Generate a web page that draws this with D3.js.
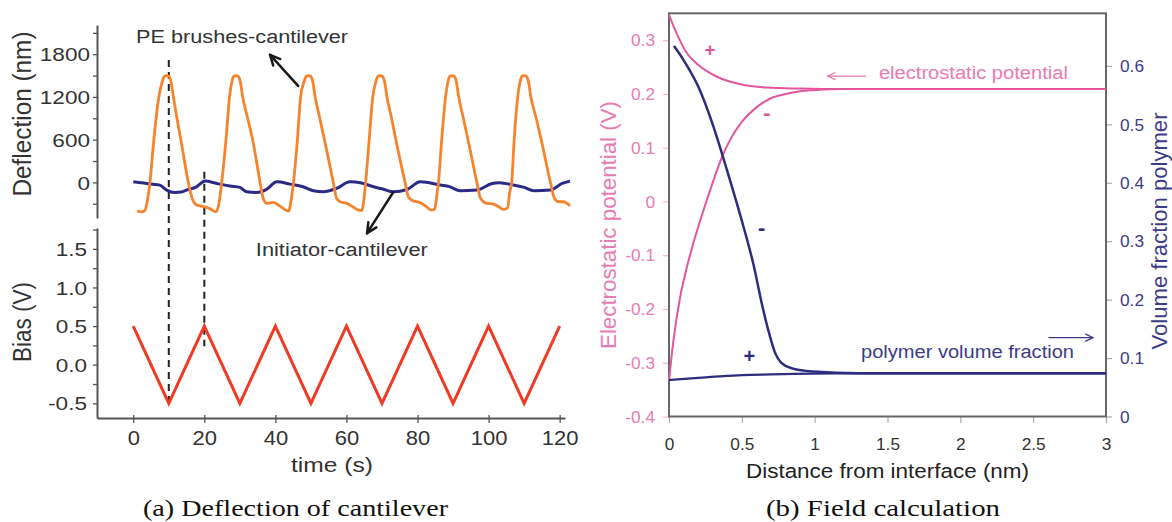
<!DOCTYPE html>
<html><head><meta charset="utf-8">
<script src="https://cdn.jsdelivr.net/npm/d3@7"></script>
<style>
body{margin:0;background:#fff}
svg{display:block}
text{font-family:"Liberation Sans",Arial,Helvetica,sans-serif}
</style>
</head><body>
<svg id="c" width="1172" height="522"></svg>
<script>
// ---------------- DATA ----------------
// (a) Deflection of cantilever
const defTime = [1.1,2.3,3.3,4.0,4.7,5.8,7.2,8.2,8.8,9.4,10.0,10.6,11.3,12.3,13.4,15.5,16.6,17.6,18.8,20.2,21.8,23.3,24.1,
  24.9,26.1,27.1,27.8,28.3,28.9,29.5,30.1,30.8,32.2,33.6,35.7,36.6,37.6,39.4,41.3,43.0,43.7,44.5,
  45.1,46.2,47.1,48.1,48.7,49.3,49.9,50.5,51.2,52.5,53.8,56.3,57.2,58.2,60.1,62.0,63.4,64.3,65.0,
  65.4,66.4,67.4,68.3,68.9,69.5,70.1,70.7,71.4,72.7,73.9,76.5,77.4,78.4,80.8,82.5,83.8,84.8,85.5,
  85.9,86.8,87.9,88.6,89.1,89.7,90.3,90.9,91.6,92.9,94.2,96.7,97.7,99.5,101.0,102.8,104.2,105.3,106.0,
  106.5,107.2,108.2,108.9,109.4,110.0,110.6,111.2,111.9,113.4,114.8,117.4,118.5,119.7,121.1,122.9];
const defBrush = [-400,-415,-390,-250,0,600,1200,1420,1490,1500,1490,1420,1200,900,600,0,-230,-310,-330,-345,-375,-413,-300,
  0,600,1200,1420,1490,1500,1490,1420,1200,900,600,0,-230,-295,-281,-333,-390,-403,-230,
  0,600,1200,1420,1490,1500,1490,1420,1200,900,600,0,-220,-272,-295,-350,-390,-395,-200,
  0,600,1200,1420,1490,1500,1490,1420,1200,900,600,0,-200,-250,-287,-340,-390,-380,-150,
  0,600,1200,1420,1490,1500,1490,1420,1200,900,600,0,-220,-295,-300,-340,-380,-360,-120,
  0,600,1200,1420,1490,1500,1490,1420,1200,900,600,0,-220,-272,-272,-330];
const initTime = [0,3,5.5,7.5,9.4,11.7,13.5,15,17.8,20.2,23.5,27.2,30,31.9,34.7,37.5,40.4,44.1,47.8,50.7,53.5,57.2,
  61,63.9,67.6,70,73.2,77,80.8,86.4,89,92,96.7,101,103,107,110,112.7,117.4,120.7,122.9];
const initVal = [8,-10,-25,-38,-108,-141,-135,-108,-62,18,-15,-52,-70,-132,-141,-98,8,-24,-62,-118,-132,-85,
  8,-5,-62,-90,-133,-100,8,-38,-60,-118,-108,-15,-5,-38,-70,-118,-108,-15,18];
const biasTime = [0,10,20,30,40,50,60,70,80,90,100,110,120];
const biasVal  = [0.5,-0.5,0.5,-0.5,0.5,-0.5,0.5,-0.5,0.5,-0.5,0.5,-0.5,0.5];
const defTicks = [1800,1200,600,0];
const defMinor = [-300,0,300,600,900,1200,1500,1800,2100];
const biasTicks = [1.5,1.0,0.5,0.0,-0.5];
const biasMinor = [-0.5,-0.25,0,0.25,0.5,0.75,1.0,1.25,1.5,1.75];
const timeTicks = [0,20,40,60,80,100,120];
const dashTimes = [10,20];
const dashTopDef = [1720,150];     // deflection value where each dashed line starts
const dashBotBias = [-0.5,0.24];   // bias value where each dashed line ends

// (b) Field calculation
const potUpDist = [0,0.05,0.12,0.21,0.33,0.49,0.67,0.9,1.2,1.5,2,2.5,3];
const potUpVal  = [0.347,0.314,0.277,0.252,0.232,0.218,0.212,0.210,0.209,0.209,0.209,0.209,0.209];
const potLoDist = [0,0.03,0.075,0.12,0.17,0.235,0.3,0.36,0.42,0.5,0.6,0.7,0.8,0.9,1.0,1.2,1.5,2,2.5,3];
const potLoVal  = [-0.333,-0.26,-0.18,-0.125,-0.075,-0.018,0.035,0.08,0.115,0.148,0.175,0.192,0.2,0.205,0.207,0.209,0.209,0.209,0.209,0.209];
const volUpDist = [0.034,0.1,0.2,0.3,0.4,0.5,0.58,0.64,0.69,0.73,0.77,0.85,0.99,1.3,1.6,2,2.5,3];
const volUpVal  = [0.634,0.61,0.565,0.5,0.42,0.335,0.26,0.19,0.14,0.108,0.092,0.082,0.077,0.074,0.074,0.074,0.074,0.074];
const volLoDist = [0,0.2,0.4,0.7,0.97,1.3,2,3];
const volLoVal  = [0.0626,0.066,0.0695,0.072,0.0735,0.074,0.074,0.074];
const potTicks = [-0.4,-0.3,-0.2,-0.1,0,0.1,0.2,0.3];
const volTicks = [0,0.1,0.2,0.3,0.4,0.5,0.6];
const distTicks = [0,0.5,1,1.5,2,2.5,3];

// ---------------- DRAWING ----------------
const svg = d3.select("#c");
const ORANGE="#f5842f", NAVY_L="#2b2b86", RED="#ef3a24", AX="#555", TXT="#333";
const PINK="#e2569c", PINK_T="#e77cb2", NAVY="#2d2c7e", NAVY_T="#3d3c85";

function stretch(sel, f){
  sel.each(function(){
    const w=this.getComputedTextLength();
    if(w>0){ this.setAttribute("textLength", w*f); this.setAttribute("lengthAdjust","spacingAndGlyphs"); }
  });
}
function arrow(g, x1,y1,x2,y2,color,w,len){
  g.append("line").attr("x1",x1).attr("y1",y1).attr("x2",x2).attr("y2",y2)
    .attr("stroke",color).attr("stroke-width",w).attr("stroke-linecap","round");
  const a=Math.atan2(y1-y2,x1-x2);
  [0.45,-0.45].forEach(da=>{
    g.append("line").attr("x1",x2).attr("y1",y2)
      .attr("x2",x2+len*Math.cos(a+da)).attr("y2",y2+len*Math.sin(a+da))
      .attr("stroke",color).attr("stroke-width",w).attr("stroke-linecap","round");
  });
}

// ---- panel (a) ----
const xT = d3.scaleLinear().domain([-10.2,121.5]).range([97,565]);
const yD = d3.scaleLinear().domain([-500,2210]).range([218,25]);
const yB = d3.scaleLinear().domain([-0.69,1.77]).range([418,228]);
const ga = svg.append("g");

function styleAxis(g){
  g.select(".domain").attr("stroke",AX).attr("stroke-width",2);
  g.selectAll(".tick line").attr("stroke",AX).attr("stroke-width",1.3);
  g.selectAll(".tick text").attr("fill",TXT);
}
const axD = ga.append("g").attr("transform","translate(97,0)")
  .call(d3.axisLeft(yD).tickValues(defMinor).tickSize(4).tickSizeOuter(0)
    .tickFormat(d=>defTicks.includes(d)?String(d):""));
styleAxis(axD);
axD.selectAll(".tick text").attr("x",-7).attr("dy","0.36em").style("font-size","18.5px");
stretch(axD.selectAll(".tick text"),1.22);

const axB = ga.append("g").attr("transform","translate(97,0)")
  .call(d3.axisLeft(yB).tickValues(biasMinor).tickSize(4).tickSizeOuter(0)
    .tickFormat(d=>biasTicks.includes(d)?d.toFixed(1):""));
styleAxis(axB);
axB.selectAll(".tick text").attr("x",-10).attr("dy","0.36em").style("font-size","18.5px");
stretch(axB.selectAll(".tick text"),1.22);

const axT = ga.append("g").attr("transform","translate(0,418)")
  .call(d3.axisBottom(xT).tickValues(timeTicks).tickSize(5).tickSizeOuter(0));
styleAxis(axT);
axT.selectAll(".tick line").attr("y1",-3);
axT.selectAll(".tick text").attr("y",27).attr("dy",0).style("font-size","20px");
stretch(axT.selectAll(".tick text"),1.1);

// axis titles
ga.append("text").attr("transform","translate(31,114) scale(1.1,1) rotate(-90)")
  .attr("text-anchor","middle").style("font-size","23px").attr("fill",TXT)
  .attr("textLength",165).attr("lengthAdjust","spacingAndGlyphs").text("Deflection (nm)");
ga.append("text").attr("transform","translate(31,322) scale(1.1,1) rotate(-90)")
  .attr("text-anchor","middle").style("font-size","23px").attr("fill",TXT)
  .attr("textLength",80).attr("lengthAdjust","spacingAndGlyphs").text("Bias (V)");
ga.append("text").attr("x",291).attr("y",472).style("font-size","21px").attr("fill",TXT)
  .attr("textLength",82).attr("lengthAdjust","spacingAndGlyphs").text("time (s)");

// dashed guide lines
dashTimes.forEach((t,i)=>{
  ga.append("line").attr("x1",xT(t)).attr("x2",xT(t))
    .attr("y1",yD(dashTopDef[i])).attr("y2",yB(dashBotBias[i]))
    .attr("stroke","#222").attr("stroke-width",2).attr("stroke-dasharray","7,5");
});

// curves
const lineD = d3.line().curve(d3.curveMonotoneX);
ga.append("path").attr("d",lineD(initTime.map((t,i)=>[xT(t),yD(initVal[i])])))
  .attr("fill","none").attr("stroke",NAVY_L).attr("stroke-width",3);
ga.append("path").attr("d",lineD(defTime.map((t,i)=>[xT(t),yD(defBrush[i])])))
  .attr("fill","none").attr("stroke",ORANGE).attr("stroke-width",2.8).attr("stroke-linejoin","round");
ga.append("path").attr("d",d3.line()(biasTime.map((t,i)=>[xT(t),yB(biasVal[i])])))
  .attr("fill","none").attr("stroke",RED).attr("stroke-width",3).attr("stroke-linejoin","miter");

// annotations
ga.append("text").attr("x",xT(0.8)).attr("y",yD(1960)).style("font-size","18px").attr("fill",TXT)
  .attr("textLength",212).attr("lengthAdjust","spacingAndGlyphs").text("PE brushes-cantilever");
ga.append("text").attr("x",xT(34.5)).attr("y",yD(-1038)).style("font-size","18px").attr("fill",TXT)
  .attr("textLength",172).attr("lengthAdjust","spacingAndGlyphs").text("Initiator-cantilever");
arrow(ga, xT(46.4),yD(1354), xT(38.5),yD(1790), "#1a1a1a",2.5,11);
arrow(ga, xT(73.2),yD(-135), xT(65.8),yD(-713), "#1a1a1a",2.5,11);

// ---- panel (b) ----
const xD = d3.scaleLinear().domain([0,3]).range([669,1106]);
const yP = d3.scaleLinear().domain([-0.4,0.35]).range([416.5,13.3]);
const yV = d3.scaleLinear().domain([0,0.69]).range([416.5,13.3]);
const gb = svg.append("g");

const fmt = d => d===0 ? "0" : d.toFixed(1);
const axP = gb.append("g").attr("transform","translate(669,0)")
  .call(d3.axisLeft(yP).tickValues(potTicks).tickSize(6).tickSizeOuter(0).tickFormat(fmt));
axP.select(".domain").remove();
axP.selectAll(".tick line").attr("stroke","#f0b8d4").attr("stroke-width",1.2);
axP.selectAll(".tick text").attr("x",-14).attr("dy","0.36em").attr("fill",PINK_T).style("font-size","16px");
stretch(axP.selectAll(".tick text"),1.08);

const axV = gb.append("g").attr("transform","translate(1106,0)")
  .call(d3.axisRight(yV).tickValues(volTicks).tickSize(6).tickSizeOuter(0).tickFormat(fmt));
axV.select(".domain").remove();
axV.selectAll(".tick line").attr("stroke","#aaa").attr("stroke-width",1.2);
axV.selectAll(".tick text").attr("x",14).attr("dy","0.36em").attr("fill",NAVY_T).style("font-size","16px");
stretch(axV.selectAll(".tick text"),1.08);

const axX = gb.append("g").attr("transform","translate(0,417)")
  .call(d3.axisBottom(xD).tickValues(distTicks).tickSize(6).tickSizeOuter(0).tickFormat(d=>String(d)));
axX.select(".domain").remove();
axX.selectAll(".tick line").attr("stroke","#aaa").attr("stroke-width",1.2);
axX.selectAll(".tick text").attr("y",33).attr("dy",0).attr("fill",TXT).style("font-size","16px");
stretch(axX.selectAll(".tick text"),1.08);

// frame
gb.append("rect").attr("x",xD(0)).attr("y",yP(0.35)).attr("width",xD(3)-xD(0)).attr("height",yP(-0.4)-yP(0.35))
  .attr("fill","none").attr("stroke","#666").attr("stroke-width",2);

// titles
gb.append("text").attr("x",xD(1.5)).attr("y",478).attr("text-anchor","middle").style("font-size","20px").attr("fill","#222")
  .attr("textLength",283).attr("lengthAdjust","spacingAndGlyphs").text("Distance from interface (nm)");
gb.append("text").attr("transform","translate(616,225) rotate(-90)").attr("text-anchor","middle")
  .style("font-size","22px").attr("fill",PINK_T).attr("textLength",248).attr("lengthAdjust","spacingAndGlyphs")
  .text("Electrostatic potential (V)");
gb.append("text").attr("transform","translate(1167,231) rotate(-90)").attr("text-anchor","middle")
  .style("font-size","22px").attr("fill",NAVY_T).attr("textLength",237).attr("lengthAdjust","spacingAndGlyphs")
  .text("Volume fraction polymer");

// curves
const lineR = d3.line().curve(d3.curveMonotoneX);
gb.append("path").attr("d",lineR(potUpDist.map((d,i)=>[xD(d),yP(potUpVal[i])])))
  .attr("fill","none").attr("stroke",PINK).attr("stroke-width",2);
gb.append("path").attr("d",lineR(potLoDist.map((d,i)=>[xD(d),yP(potLoVal[i])])))
  .attr("fill","none").attr("stroke",PINK).attr("stroke-width",2);
gb.append("path").attr("d",lineR(volLoDist.map((d,i)=>[xD(d),yV(volLoVal[i])])))
  .attr("fill","none").attr("stroke",NAVY).attr("stroke-width",2.3);
gb.append("path").attr("d",lineR(volUpDist.map((d,i)=>[xD(d),yV(volUpVal[i])])))
  .attr("fill","none").attr("stroke",NAVY).attr("stroke-width",2.5);

// annotations
function sign(g,x,y,s,color,size){
  g.append("text").attr("x",x).attr("y",y).attr("text-anchor","middle").attr("dy","0.35em")
    .style("font-size",size+"px").style("font-weight","bold").attr("fill",color).text(s);
}
sign(gb, xD(0.282), yP(0.283), "+", PINK, 19);
sign(gb, xD(0.673), yP(0.165), "-", PINK, 22);
sign(gb, xD(0.636), yV(0.323), "-", NAVY, 22);
sign(gb, xD(0.551), yV(0.104), "+", NAVY, 20);

gb.append("text").attr("x",xD(1.441)).attr("y",yP(0.227)).style("font-size","18px").attr("fill",PINK_T)
  .attr("textLength",189).attr("lengthAdjust","spacingAndGlyphs").text("electrostatic potential");
arrow(gb, xD(1.35),yP(0.233), xD(1.09),yP(0.233), PINK_T,1.3,8);
gb.append("text").attr("x",xD(1.318)).attr("y",yV(0.1)).style("font-size","18px").attr("fill",NAVY_T)
  .attr("textLength",213).attr("lengthAdjust","spacingAndGlyphs").text("polymer volume fraction");
arrow(gb, xD(2.608),yV(0.135), xD(2.91),yV(0.135), NAVY_T,1.3,8);

// captions
svg.append("text").attr("x",143).attr("y",516).style("font-family","'Liberation Serif','Times New Roman',serif")
  .style("font-size","23px").attr("fill","#111").attr("textLength",305).attr("lengthAdjust","spacingAndGlyphs")
  .text("(a) Deflection of cantilever");
svg.append("text").attr("x",766).attr("y",516).style("font-family","'Liberation Serif','Times New Roman',serif")
  .style("font-size","23px").attr("fill","#111").attr("textLength",234).attr("lengthAdjust","spacingAndGlyphs")
  .text("(b) Field calculation");
</script>
</body></html>
